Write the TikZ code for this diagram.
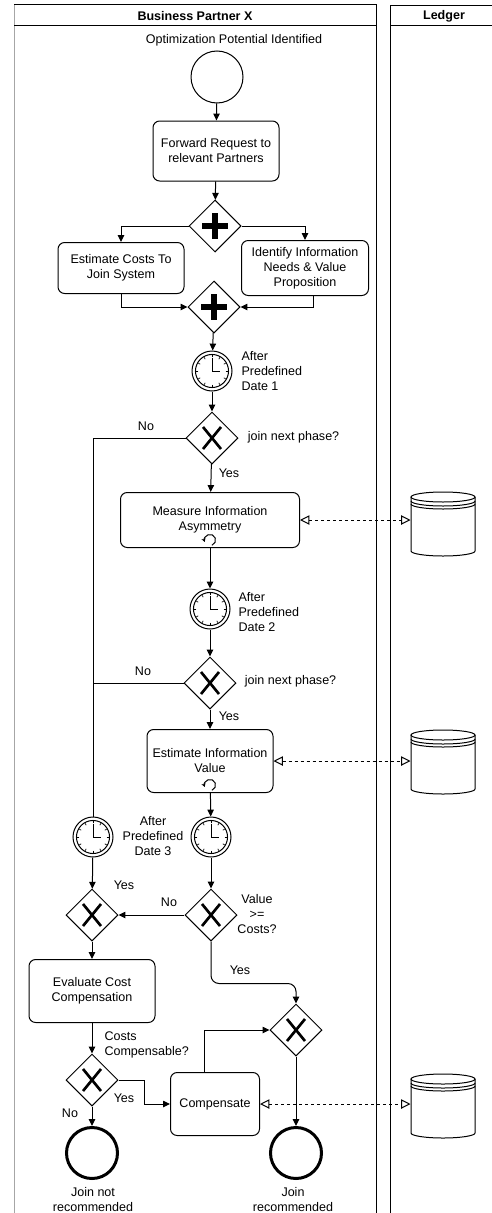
\documentclass[tikz,border=0pt]{standalone}
\usepackage{fontspec}
\setmainfont{Liberation Sans}
\usetikzlibrary{shapes.geometric,arrows.meta}

\tikzset{
	task/.style={draw,rounded corners=5pt,align=center},
	gw/.style={draw,diamond,minimum width=39pt,minimum height=39pt,inner sep=0pt},
	timer/.style={draw,circle,minimum size=30pt,inner sep=0pt},
	endev/.style={draw,circle,line width=2.25pt,minimum size=38.25pt,inner sep=0pt},
	store/.style={minimum width=48pt,minimum height=48pt,inner sep=0pt},
	flow/.style={-{Triangle[length=5.2pt,width=4.8pt]}},
	assoc/.style={dash pattern=on 2.5pt off 2pt,{Triangle[open,length=7pt,width=7pt]}-{Triangle[open,length=7pt,width=7pt]}},
	lbl/.style={inner sep=0pt,align=left},
}

\begin{document}
\begin{tikzpicture}[x=0.75pt,y=-0.75pt,line width=0.75pt,font=\fontsize{9.4}{11.25}\selectfont]% une unité = un pixel de l'original
	\useasboundingbox (0,0) rectangle (492,1213);
	% couloirs
	\draw[gray!70] (14,1215) -- (14,5);
	\draw (14,5) -- (376,5) -- (376,1215);
	\draw (14,26) -- (376,26);
	\draw (493,6) -- (390,6) -- (390,1215);
	\draw (390,26) -- (493,26);
	\node (bpx) at (195,16) {\bfseries Business Partner X};
	\node (ldg) at (444,16) {\bfseries Ledger};
	
	\node (opi) at (234,40) {Optimization Potential Identified};
	\node[draw,circle,minimum size=39pt] (start) at (217,77) {};
	\node[task,minimum width=94.5pt,minimum height=45pt] (fwd) at (216,151) {Forward Request to\\relevant Partners};
	\node[gw] (pg1) at (215,226) {};
	\node[task,minimum width=94.5pt,minimum height=38.25pt] (est) at (121,268) {Estimate Costs To\\Join System};
	\node[task,minimum width=95.25pt,minimum height=41.25pt] (idn) at (305,268) {Identify Information\\Needs \& Value\\Proposition};
	\node[gw] (pg2) at (214,307) {};
	\node[timer] (t1) at (212,371) {};
	\node[lbl,anchor=west] (t1txt) at (241,371) {After\\Predefined\\Date 1};
	\node[gw] (x1) at (212,438) {};
	\node (x1no) at (146,426) {No};
	\node[anchor=west] (x1q) at (243,437) {join next phase?};
	\node (x1yes) at (229,473) {Yes};
	\node[task,minimum width=134.25pt,minimum height=41.25pt] (mia) at (210,520) {Measure Information\\Asymmetry};
	\node[timer] (t2) at (210,609) {};
	\node[lbl,anchor=west] (t2txt) at (238,612) {After\\Predefined\\Date 2};
	\node[gw] (x2) at (210,683) {};
	\node (x2no) at (143,671) {No};
	\node[anchor=west] (x2q) at (240,681) {join next phase?};
	\node (x2yes) at (229,716) {Yes};
	\node[task,minimum width=94.5pt,minimum height=47.25pt] (eiv) at (210,761) {Estimate Information\\Value};
	\node[timer] (t3) at (93,837) {};
	\node[align=center] (t3txt) at (153,836) {After\\Predefined\\Date 3};
	\node[timer] (t4) at (211,837) {};
	\node[gw] (x3) at (92,915) {};
	\node[gw] (x4) at (211,915) {};
	\node (x3yes) at (124,885) {Yes};
	\node (x4no) at (169,902) {No};
	\node[align=center] (x4q) at (257,914) {Value\\>=\\Costs?};
	\node (x4yes) at (240,970) {Yes};
	\node[task,minimum width=94.5pt,minimum height=47.25pt] (ecc) at (92,991) {Evaluate Cost\\Compensation};
	\node[gw] (x5) at (296,1030) {};
	\node[gw] (x6) at (92,1080) {};
	\node[lbl,anchor=west] (x6q) at (104,1045) {Costs\\Compensable?};
	\node (x6yes) at (124,1098) {Yes};
	\node (x6no) at (70,1113) {No};
	\node[task,minimum width=66.75pt,minimum height=47.25pt] (cmp) at (215,1104) {Compensate};
	\node[endev] (e1) at (92,1153) {};
	\node[endev] (e2) at (296,1153) {};
	\node[align=center] (e1txt) at (93,1200) {Join not\\recommended};
	\node[align=center] (e2txt) at (293,1200) {Join\\recommended};
	
	% marqueurs des passerelles et horloges
	\foreach \g in {pg1,pg2}{
		\draw[line width=5pt] ([xshift=-9.4pt]\g.center) -- ([xshift=9.4pt]\g.center) ([yshift=-9.4pt]\g.center) -- ([yshift=9.4pt]\g.center);}
	\foreach \g in {x1,x2,x3,x4,x5,x6}{
		\draw[line width=2pt] ([shift={(-6.75pt,-8.25pt)}]\g.center) -- ([shift={(6.75pt,8.25pt)}]\g.center) ([shift={(-6.75pt,8.25pt)}]\g.center) -- ([shift={(6.75pt,-8.25pt)}]\g.center);}
	\foreach \t in {t1,t2,t3,t4}{
		\draw (\t.center) circle[radius=12.4pt];
		\foreach \a in {0,30,...,330}{
			\draw[line width=0.5pt] (\t.center) ++(\a:10.2pt) -- ++(\a:1.8pt);}
		\draw (\t.center) ++(0,10pt) -- (\t.center) -- ++(6pt,0);}
	\foreach \b in {mia,eiv}{
		\draw[-{Stealth[length=2.8pt,width=3.2pt]}] ([yshift=6pt]\b.south) ++(-70:4.2pt) arc[start angle=-70,end angle=200,radius=4.2pt];}
	
	% bases de données
	\foreach \n/\y in {ds1/524,ds2/762,ds3/1106}{
		\node[store] (\n) at (443,\y) {};
		\draw (443,\y-27) ellipse[x radius=32,y radius=5];
		\draw (411,\y-23) arc[start angle=180,end angle=0,x radius=32,y radius=5];
		\draw (411,\y-20) arc[start angle=180,end angle=0,x radius=32,y radius=5];
		\draw (411,\y-27) -- (411,\y+27) arc[start angle=180,end angle=0,x radius=32,y radius=5] -- (475,\y-27);}
	
	% flux
	\draw[flow] (start) -- (fwd);
	\draw[flow] (fwd) -- (pg1);
	\draw[flow] (pg1.west) -| (est.north);
	\draw[flow] (pg1.east) -| (idn.north);
	\draw[flow] (est.south) |- (pg2.west);
	\draw[flow] ([xshift=6pt]idn.south) |- (pg2.east);
	\draw[flow] (pg2) -- (t1);
	\draw[flow] (t1) -- (x1);
	\draw[flow] (x1) -- (mia);
	\draw (x1.west) -| (t3.north);
	\draw[flow] (mia) -- (t2);
	\draw[flow] (t2) -- (x2);
	\draw (x2.west) -- (x2.west -| t3.north);
	\draw[flow] (x2) -- (eiv);
	\draw[flow] (eiv) -- (t4);
	\draw[flow] (t4) -- (x4);
	\draw[flow] (t3) -- (x3);
	\draw[flow] (x4) -- (x3);
	\draw[flow] (x3) -- (ecc);
	\draw[flow,rounded corners=6pt] (x4.south) -- ++(0,42) -| (x5.north);
	\draw[flow] (ecc) -- (x6);
	\draw[flow] (x6.east) -- ++(26,0) |- (cmp.west);
	\draw[flow] ([xshift=-8.25pt]cmp.north) |- (x5.west);
	\draw[flow] (x6) -- (e1);
	\draw[flow] (x5) -- (e2);
	\draw[assoc] (mia.east) -- (mia.east -| ds1.west);
	\draw[assoc] (eiv.east) -- (eiv.east -| ds2.west);
	\draw[assoc] (cmp.east) -- (cmp.east -| ds3.west);
\end{tikzpicture}
\end{document}
